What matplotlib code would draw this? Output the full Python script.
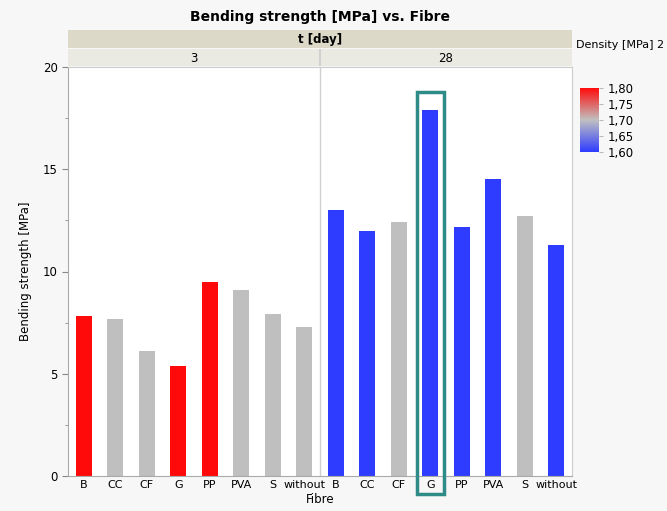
import matplotlib
matplotlib.use("Agg")
import matplotlib.pyplot as plt
from matplotlib.colors import LinearSegmentedColormap, Normalize
from matplotlib.patches import Rectangle
import numpy as np

# --- Daten ----------------------------------------------------------------
fibres = ["B", "CC", "CF", "G", "PP", "PVA", "S", "without"]
days = ["3", "28"]
strength_3 = [7.8, 7.7, 6.1, 5.4, 9.5, 9.1, 7.9, 7.3]
strength_28 = [13.0, 12.0, 12.4, 17.9, 12.2, 14.5, 12.7, 11.3]
density_3 = [1.80, 1.70, 1.70, 1.80, 1.80, 1.70, 1.70, 1.70]
density_28 = [1.60, 1.60, 1.70, 1.60, 1.60, 1.60, 1.70, 1.60]
highlight = ("28", "G")

BG = "#f7f7f7"
cmap = LinearSegmentedColormap.from_list("dens", ["#2e3cff", "#c0c0c0", "#ff0a0a"])
norm = Normalize(vmin=1.60, vmax=1.80)

W, H = 667, 511
fig = plt.figure(figsize=(W / 100, H / 100), dpi=100, facecolor=BG)


def fx(px):
    return px / W


def fy(py):
    return 1 - py / H


L, R, T, B = 68, 572, 67, 476
ax = fig.add_axes([fx(L), fy(B), fx(R - L), fy(T) - fy(B)])
ax.set_facecolor("white")

n = len(fibres)
x = np.arange(2 * n)
vals = strength_3 + strength_28
dens = density_3 + density_28
ax.bar(x, vals, width=0.5, color=cmap(norm(np.array(dens))), zorder=2)
ax.axvline(n - 0.5, color="#d0d0d0", lw=1, zorder=1)

ax.set_xlim(-0.5, 2 * n - 0.5)
ax.set_ylim(0, 20)
ax.set_yticks([0, 5, 10, 15, 20])
ax.set_yticks([2.5, 7.5, 12.5, 17.5], minor=True)
ax.set_xticks(x)
ax.set_xticklabels(fibres + fibres, fontsize=8)
ax.tick_params(axis="x", length=0, pad=3)
ax.tick_params(axis="y", labelsize=8.5, length=4, color="#888888")
ax.tick_params(axis="y", which="minor", length=2.5, color="#888888")
for s in ["top", "right"]:
    ax.spines[s].set_color("#cccccc")
for s in ["left", "bottom"]:
    ax.spines[s].set_color("#aaaaaa")
ax.set_xlabel("Fibre", fontsize=8.5, labelpad=2)
ax.set_ylabel("Bending strength [MPa]", fontsize=8.5, labelpad=8)

# Markierung um G (28 Tage)
hi = n + fibres.index(highlight[1])
rect = Rectangle((hi - 0.43, -0.045), 0.86, 0.825, transform=ax.get_xaxis_transform(),
                 fill=False, ec="#2e8b87", lw=2.5, clip_on=False, zorder=5)
# obere Kante in Datenkoordinaten -> ueber 18.8
top_frac = 18.8 / 20
rect.set_height(top_frac + 0.045)
ax.add_patch(rect)

# Kopfbaender (Facetten)
band1 = fig.add_axes([fx(L), fy(48), fx(R - L), fy(30) - fy(48)])
band1.set_facecolor("#dcd9c9")
band1.set_xticks([]); band1.set_yticks([])
for s in band1.spines.values():
    s.set_visible(False)
band1.text(0.5, 0.5, "t [day]", ha="center", va="center", fontsize=8.5, fontweight="bold")

band2 = fig.add_axes([fx(L), fy(66), fx(R - L), fy(49) - fy(66)])
band2.set_facecolor("#ebeae2")
band2.set_xticks([]); band2.set_yticks([])
band2.set_xlim(0, 2)
for s in band2.spines.values():
    s.set_visible(False)
band2.axvline(1, color="#d0d0d0", lw=1.5)
for i, d in enumerate(days):
    band2.text(i + 0.5, 0.45, d, ha="center", va="center", fontsize=8.5)

fig.text(fx((L + R) / 2), fy(17), "Bending strength [MPa] vs. Fibre",
         ha="center", va="center", fontsize=10, fontweight="bold")

# Farbskala
cax = fig.add_axes([fx(580), fy(152), fx(19), fy(88) - fy(152)])
cb = fig.colorbar(plt.cm.ScalarMappable(norm=norm, cmap=cmap), cax=cax)
cb.set_ticks([1.60, 1.65, 1.70, 1.75, 1.80])
cb.set_ticklabels(["1,60", "1,65", "1,70", "1,75", "1,80"])
cb.ax.tick_params(labelsize=8.5, length=3, color="#bbbbbb")
cb.outline.set_visible(False)
fig.text(fx(576), fy(45), "Density [MPa] 2", ha="left", va="center", fontsize=8)

fig.savefig("out.png", dpi=100, facecolor=BG)
